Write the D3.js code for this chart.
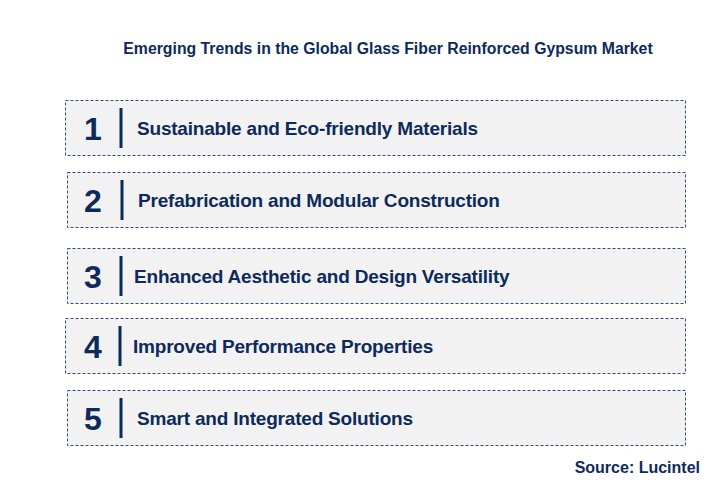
<!DOCTYPE html>
<html><head><meta charset="utf-8">
<script src="https://cdn.jsdelivr.net/npm/d3@7"></script>
<style>body{margin:0;background:#fff}</style>
</head><body><div id="chart"></div>
<script>
const title = "Emerging Trends in the Global Glass Fiber Reinforced Gypsum Market";
const numbers = ["1", "2", "3", "4", "5"];
const trends = [
  "Sustainable and Eco-friendly Materials",
  "Prefabrication and Modular Construction",
  "Enhanced Aesthetic and Design Versatility",
  "Improved Performance Properties",
  "Smart and Integrated Solutions"
];
const boxTops = [100, 172, 248, 318, 390];
const boxLefts = [65, 67, 67, 65, 67];
const barX = [121, 122, 121, 120, 121];
const textX = [137, 138, 134, 133, 137];

const width = 712, height = 481, boxH = 55, boxRight = 685;
const navy = "#0d2a5c";

const svg = d3.select("#chart").append("svg").attr("width", width).attr("height", height);

svg.append("text").attr("x", 388).attr("y", 54).attr("text-anchor", "middle")
  .style("font-family", "Arial, 'Liberation Sans', sans-serif").style("font-size", "15.8px")
  .style("font-weight", "700").attr("fill", navy).text(title);

const rows = svg.selectAll(".row").data(trends).join("g").attr("class", "row");

rows.append("rect")
  .attr("x", (d, i) => boxLefts[i] + 0.5).attr("y", (d, i) => boxTops[i] + 0.5)
  .attr("width", (d, i) => boxRight - boxLefts[i]).attr("height", boxH)
  .attr("fill", "#f2f2f2").attr("stroke", "#2f4f7f").attr("stroke-width", 1)
  .attr("stroke-dasharray", "3,2");

rows.append("rect")
  .attr("x", (d, i) => barX[i] - 1.5).attr("y", (d, i) => boxTops[i] + 8)
  .attr("width", 3).attr("height", boxH - 15).attr("fill", navy);

rows.append("text")
  .attr("x", 93).attr("y", (d, i) => boxTops[i] + boxH / 2 + 12)
  .attr("text-anchor", "middle")
  .style("font-family", "Arial, 'Liberation Sans', sans-serif").style("font-size", "32px")
  .style("font-weight", "700").attr("fill", navy).text((d, i) => numbers[i]);

rows.append("text")
  .attr("x", (d, i) => textX[i]).attr("y", (d, i) => boxTops[i] + boxH / 2 + 7)
  .style("font-family", "Arial, 'Liberation Sans', sans-serif").style("font-size", "19px")
  .style("font-weight", "700").style("letter-spacing", "-0.2px").attr("fill", navy).text(d => d);

svg.append("text").attr("x", 700).attr("y", 473).attr("text-anchor", "end")
  .style("font-family", "Arial, 'Liberation Sans', sans-serif").style("font-size", "16px")
  .style("font-weight", "700").attr("fill", navy).text("Source: Lucintel");
</script></body></html>
